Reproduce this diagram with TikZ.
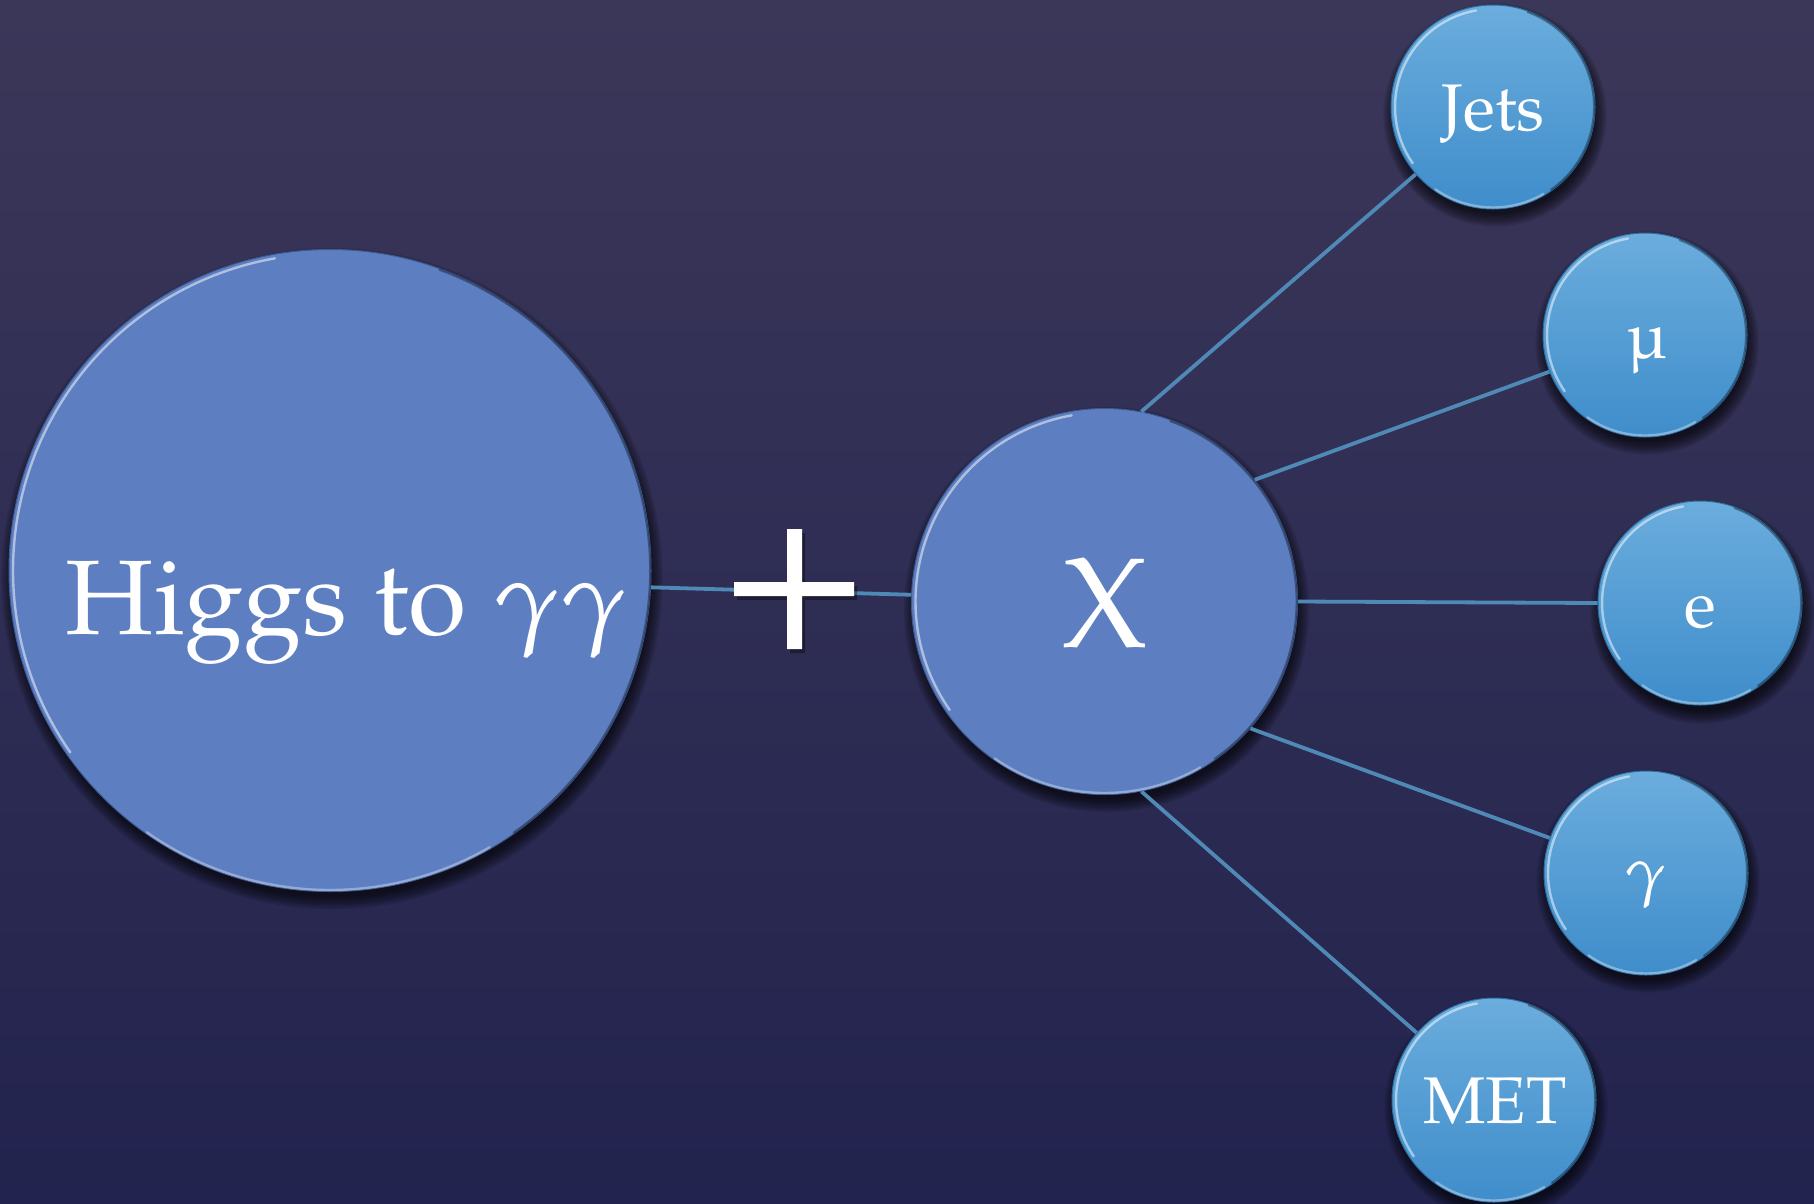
\documentclass[tikz,border=0pt]{standalone}
\usepackage[T1]{fontenc}
\usepackage{mathpazo}
\usepackage{textcomp}
\definecolor{bgtop}{HTML}{3B3759}
\definecolor{bgbot}{HTML}{22234E}
\definecolor{bigfill}{HTML}{5D7FC2}
\definecolor{bigedge}{HTML}{3E5A92}
\definecolor{smalltop}{HTML}{6BADDD}
\definecolor{smallbot}{HTML}{3F8DCB}
\definecolor{smalledge}{HTML}{2F6C9F}
\definecolor{linkc}{HTML}{4F8AB7}
\begin{document}
\begin{tikzpicture}[x=1pt,y=1pt,
  bigc/.style={circle, inner sep=0pt, fill=bigfill, draw=bigedge, line width=1pt},
  smallc/.style={circle, inner sep=0pt, minimum size=204pt, top color=smalltop, bottom color=smallbot,
    draw=smalledge, line width=1pt},
  shadowring/.style={fill=black, opacity=0.11},
  link/.style={draw=linkc, line width=3.8pt},
  rimlight/.style={draw=white, line width=2.4pt, opacity=0.5, line cap=round},
  rimdark/.style={draw=black, line width=2pt, opacity=0.35, line cap=round},
  txt/.style={text=white, anchor=base, inner sep=0pt},
  bigtxt/.style={txt, font=\fontsize{106}{126}\selectfont},
  xtxt/.style={txt, font=\fontsize{128}{150}\selectfont},
  smalltxt/.style={txt, font=\fontsize{66}{80}\selectfont}
]
\useasboundingbox (0,0) rectangle (1814,-1203);
\fill[top color=bgtop, bottom color=bgbot] (0,0) rectangle (1814,-1203);

% soft drop shadows
\foreach \cx/\cy/\rr in {330/-570.5/321, 1104.5/-601.5/193, 1493/-107/102, 1645/-335/102,
    1700/-604/102, 1646/-873/102, 1494/-1100/102}{
  \foreach \k in {0,...,7}{
    \fill[shadowring] (\cx+2,\cy-8) circle[radius=\rr+1.8*\k-3];
  }
}

% circles
\node[bigc, minimum size=642pt] (H) at (330,-570.5) {};
\node[bigc, minimum size=386pt] (X) at (1104.5,-601.5) {};
\node[smallc] (J) at (1493,-107) {};
\node[smallc] (M) at (1645,-335) {};
\node[smallc] (E) at (1700,-603) {};
\node[smallc] (G) at (1646,-873) {};
\node[smallc] (T) at (1494,-1100) {};

% bevel rims
\foreach \nm/\rr in {H/321,X/193,J/102,M/102,E/102,G/102,T/102}{
  \draw[rimlight] ([shift={(100:\rr-4)}]\nm.center) arc[start angle=100, end angle=215, radius=\rr-4];
  \draw[rimlight, opacity=0.35] ([shift={(-60:\rr-1.5)}]\nm.center) arc[start angle=-60, end angle=-125, radius=\rr-1.5];
  \draw[rimdark] ([shift={(70:\rr-1)}]\nm.center) arc[start angle=70, end angle=-55, radius=\rr-1];
}

% connectors
\draw[link] (H.-3) -- (X.178);
\draw[link] (X.79) -- (J.221);
\draw[link] (X.39) -- (M.201);
\draw[link] (X.0) -- (E.180);
\draw[link] (X.-41) -- (G.160);
\draw[link] (X.-79.5) -- (T.139);

% plus sign
\fill[black, opacity=0.35, shift={(3,-4)}] (734,-582) -- (787,-582) -- (787,-529) -- (802,-529) -- (802,-582) -- (854,-582)
  -- (854,-596) -- (802,-596) -- (802,-649) -- (787,-649) -- (787,-596) -- (734,-596) -- cycle;
\fill[white] (734,-582) -- (787,-582) -- (787,-529) -- (802,-529) -- (802,-582) -- (854,-582)
  -- (854,-596) -- (802,-596) -- (802,-649) -- (787,-649) -- (787,-596) -- (734,-596) -- cycle;

% texts
\node[bigtxt] (Ht) at (347,-634) {Higgs to $\gamma\gamma$};
\node[xtxt] (Xt) at (1105,-647) {X};
\node[smalltxt] (Jt) at (1493,-130) {Jets};
\node[smalltxt] (Mt) at (1647,-358) {\textmu};
\node[smalltxt] (Et) at (1700,-627) {e};
\node[smalltxt] (Gt) at (1646,-893) {$\gamma$};
\node[smalltxt] (Tt) at (1495,-1123) {MET};
\end{tikzpicture}
\end{document}
